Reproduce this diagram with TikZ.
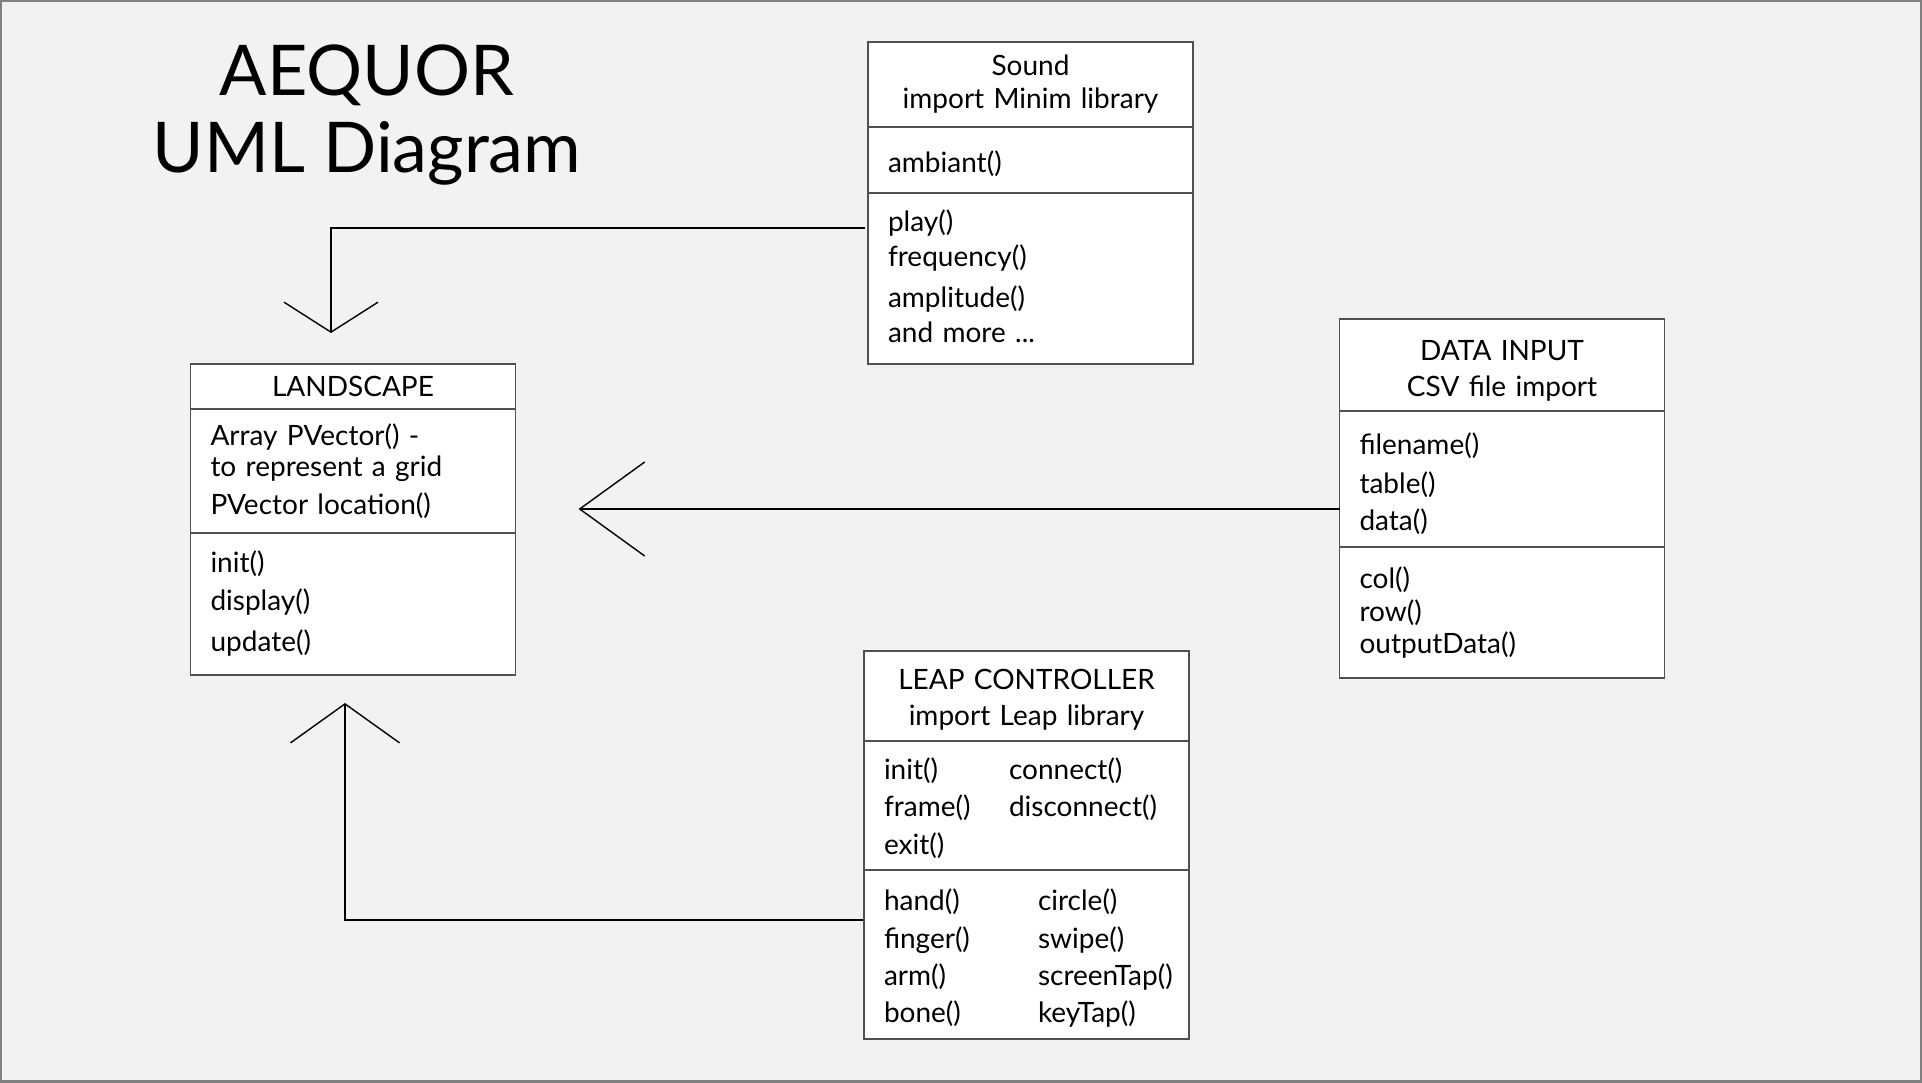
\documentclass[tikz,border=0pt]{standalone}
\usepackage{fontspec}
\setmainfont{Lato}
\usetikzlibrary{positioning, arrows.meta}
\definecolor{paper}{HTML}{F2F2F2}
\definecolor{frame}{HTML}{808080}
\definecolor{boxline}{HTML}{505050}
\newcommand{\padtop}[1]{\rule{0pt}{#1}}
\newcommand{\padbot}[1]{\rule[-#1]{0pt}{0pt}}

\begin{document}
\begin{tikzpicture}[
x=1pt, y=-1pt,
every node/.style={font=\fontsize{28}{36}\selectfont, inner ysep=0pt, outer sep=0pt},
head/.style={draw=boxline, fill=white, line width=1.5pt, text width=285pt, inner xsep=20pt, align=center},
part/.style={draw=boxline, fill=white, line width=1.5pt, text width=285pt, inner xsep=20pt, align=left},
assoc/.style={draw=black, line width=1.4pt}
]

% ====== Page ======
\useasboundingbox (0,0) rectangle (1922,1082);
\fill[paper] (0,0) rectangle (1922,1082);
\draw[frame, line width=4pt] (0,0) rectangle (1922,1082);

% ====== Title ======
\node[font=\fontsize{70}{77}\selectfont, align=center] (title) at (367,115) {AEQUOR\\UML Diagram};

% ====== Landscape ======
\node[head, minimum height=45pt, anchor=north] (landA) at (353,364) {LANDSCAPE};
\node[part, minimum height=124pt, below=0pt of landA] (landB) {Array PVector() -\\[-5pt]to represent a grid\\[2pt]PVector location()};
\node[part, minimum height=142pt, below=0pt of landB] (landC) {init()\\[2pt]display()\\[5pt]update()\padbot{3pt}};

% ====== Sound ======
\node[head, minimum height=85pt, anchor=north] (soundA) at (1030.5,42) {Sound\\[-3pt]import Minim library};
\node[part, minimum height=66pt, below=0pt of soundA] (soundB) {\padtop{29pt}ambiant()};
\node[part, minimum height=171pt, below=0pt of soundB] (soundC) {play()\\[-1pt]frequency()\\[5pt]amplitude()\\[-1pt]and more ...\padbot{5pt}};

% ====== Data Input ======
\node[head, minimum height=92pt, anchor=north] (dataA) at (1502,319) {\padtop{31pt}DATA INPUT\\CSV file import};
\node[part, minimum height=136pt, below=0pt of dataA] (dataB) {\padtop{32pt}filename()\\[3pt]table()\\[1pt]data()};
\node[part, minimum height=131pt, below=0pt of dataB] (dataC) {col()\\[-3pt]row()\\[-4pt]outputData()};

% ====== Leap Controller ======
\node[head, minimum height=90pt, anchor=north] (leapA) at (1026.5,651) {\padtop{27pt}LEAP CONTROLLER\\import Leap library};
\node[part, minimum height=129pt, below=0pt of leapA] (leapB) {\padtop{27pt}\makebox[125pt][l]{init()}connect()\\[1pt]\makebox[125pt][l]{frame()}disconnect()\\[2pt]exit()};
\node[part, minimum height=169pt, below=0pt of leapB] (leapC) {\padtop{29pt}\makebox[154pt][l]{hand()}circle()\\[2pt]\makebox[154pt][l]{finger()}swipe()\\[1pt]\makebox[154pt][l]{arm()}screenTap()\\[1pt]\makebox[154pt][l]{bone()}keyTap()};

% ====== Connections ======
\draw[assoc, -{Straight Barb[length=30pt, width=94pt]}] ([xshift=-3pt, yshift=-35pt]soundC.north west) -| ([xshift=-22pt, yshift=31pt]landA.north);

\coordinate (dataOut) at ([yshift=38pt]dataC.north west);
\coordinate (dataTip) at ([xshift=63pt]landB.east);
\draw[assoc, -{Straight Barb[length=65pt, width=94pt]}] (dataOut) -- (dataOut -| dataTip);

\draw[assoc, -{Straight Barb[length=39pt, width=109pt]}] ([xshift=-1pt, yshift=-50pt]leapC.north west) -| ([xshift=-8pt, yshift=-28pt]landC.south);

\end{tikzpicture}
\end{document}
